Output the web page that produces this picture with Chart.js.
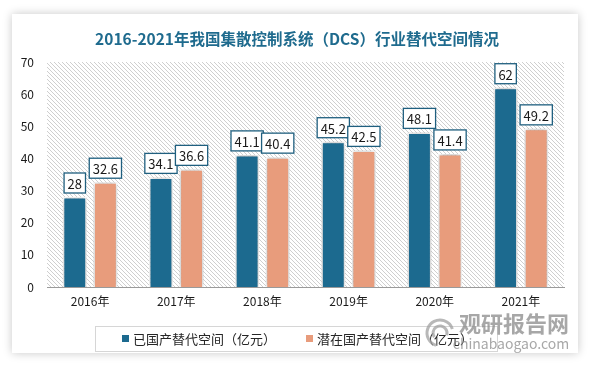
<!DOCTYPE html>
<html>
<head>
<meta charset="utf-8">
<script src="https://cdn.jsdelivr.net/npm/chart.js@4/dist/chart.umd.min.js"></script>
<style>
 body{margin:0;background:#fff;width:594px;height:366px;overflow:hidden;position:relative}
 #card{position:absolute;left:12px;top:14px;width:566px;height:339px;background:#fff;box-shadow:0 0 9px rgba(0,0,0,.22)}
 #c{position:absolute;left:0;top:0}
</style>
</head>
<body>
<div id="card"></div>
<canvas id="c" width="594" height="366"></canvas>
<script>
/* ===== DATA ===== */
const years=["2016年","2017年","2018年","2019年","2020年","2021年"]
const done=[28,34.1,41.1,45.2,48.1,62]
const potential=[32.6,36.6,40.4,42.5,41.4,49.2]
const yTicks=[0,10,20,30,40,50,60,70]
const title="2016-2021年我国集散控制系统（DCS）行业替代空间情况"

const BLUE="#1c6a8f",SALMON="#e89c7c",FONT="'Noto Sans CJK SC','Noto Sans',sans-serif"

/* ===== HATCH ===== */
function hatch(){
 const p=document.createElement("canvas");p.width=p.height=4
 const g=p.getContext("2d")
 g.fillStyle="#fff";g.fillRect(0,0,4,4)
 g.strokeStyle="#cfcfcf";g.lineWidth=1
 g.beginPath();g.moveTo(-1,-1);g.lineTo(5,5);g.moveTo(-1,3);g.lineTo(1,5);g.moveTo(3,-1);g.lineTo(5,1);g.stroke()
 return p
}

/* ===== PLUGINS ===== */
const deco={
 id:"deco",
 beforeDatasetsDraw(ch){
  const a=ch.chartArea,x=ch.ctx
  x.save();x.fillStyle=x.createPattern(hatch(),"repeat")
  x.fillRect(a.left,a.top,a.right-a.left,a.bottom-a.top);x.restore()
 },
 beforeDatasetDraw(ch){
  const x=ch.ctx;x.save()
  x.shadowColor="rgba(0,0,0,.35)";x.shadowBlur=5
 },
 afterDatasetDraw(ch){ch.ctx.restore()},
 afterDatasetsDraw(ch){
  const x=ch.ctx
  x.save();x.font="13px "+FONT;x.textAlign="center";x.textBaseline="middle"
  ch.data.datasets.forEach((d,i)=>{
   ch.getDatasetMeta(i).data.forEach((el,j)=>{
    const t=String(d.data[j]),w=x.measureText(t).width+7,h=20,bx=el.x-w/2,by=el.y-4-h
    x.fillStyle="#fff";x.fillRect(bx,by,w,h)
    x.strokeStyle="#1f5f7f";x.lineWidth=1.3;x.strokeRect(bx,by,w,h)
    x.fillStyle="#1a1a1a";x.fillText(t,el.x,by+h/2+1)
   })
  })
  x.restore()
 },
 afterDraw(ch){
  const x=ch.ctx
  x.save()
  // title
  x.font="bold 15.5px "+FONT;x.fillStyle="#1f6b8e";x.textAlign="center";x.textBaseline="middle"
  x.fillText(title,297,39)
  // legend
  x.strokeStyle="#d6d6d6";x.lineWidth=1;x.strokeRect(95.5,326.5,402,25)
  x.font="13px "+FONT;x.textAlign="left";x.fillStyle="#262626"
  let lx=122
  ch.data.datasets.forEach(d=>{
   x.fillStyle=d.backgroundColor;x.fillRect(lx,335,7,7)
   x.fillStyle="#262626";x.fillText(d.label,lx+11,339)
   lx+=11+x.measureText(d.label).width+30
  })
  // watermark
  x.globalAlpha=.75;x.fillStyle="#8a8a8a";x.textAlign="center"
  x.font="bold 22px "+FONT;x.fillText("观研报告网",514,324)
  x.font="14px "+FONT;x.fillText("chinabaogao.com",511,344)
  x.strokeStyle="#a0a0a0";x.lineWidth=3
  x.beginPath();x.arc(440,333,13,Math.PI*0.6,Math.PI*1.9);x.stroke()
  x.beginPath();x.arc(440,333,7,Math.PI*0.8,Math.PI*2.1);x.stroke()
  x.restore()
 }
}

/* ===== CHART ===== */
new Chart(document.getElementById("c"),{
 type:"bar",
 data:{labels:years,datasets:[
  {label:"已国产替代空间（亿元）",data:done,backgroundColor:BLUE,borderColor:"#fff",borderWidth:1.5},
  {label:"潜在国产替代空间（亿元）",data:potential,backgroundColor:SALMON,borderColor:"#fff",borderWidth:1.5}
 ]},
 options:{
  responsive:false,animation:false,
  layout:{padding:{left:0,right:30,top:62,bottom:49}},
  categoryPercentage:0.71,barPercentage:0.78,
  plugins:{legend:{display:false},tooltip:{enabled:false}},
  scales:{
   x:{grid:{display:false,drawTicks:false},border:{display:true,color:"#9a9a9a",width:1},
    ticks:{padding:7,color:"#1a1a1a",font:{size:12,family:FONT}},
    afterFit(s){s.height=30}},
   y:{min:0,max:70,grid:{display:false,drawTicks:false},border:{display:false},
    afterBuildTicks(s){s.ticks=yTicks.map(v=>({value:v}))},
    ticks:{padding:13,color:"#1a1a1a",font:{size:12,family:FONT}},
    afterFit(s){s.width=47}}
  }
 },
 plugins:[deco]
})
</script>
</body>
</html>
